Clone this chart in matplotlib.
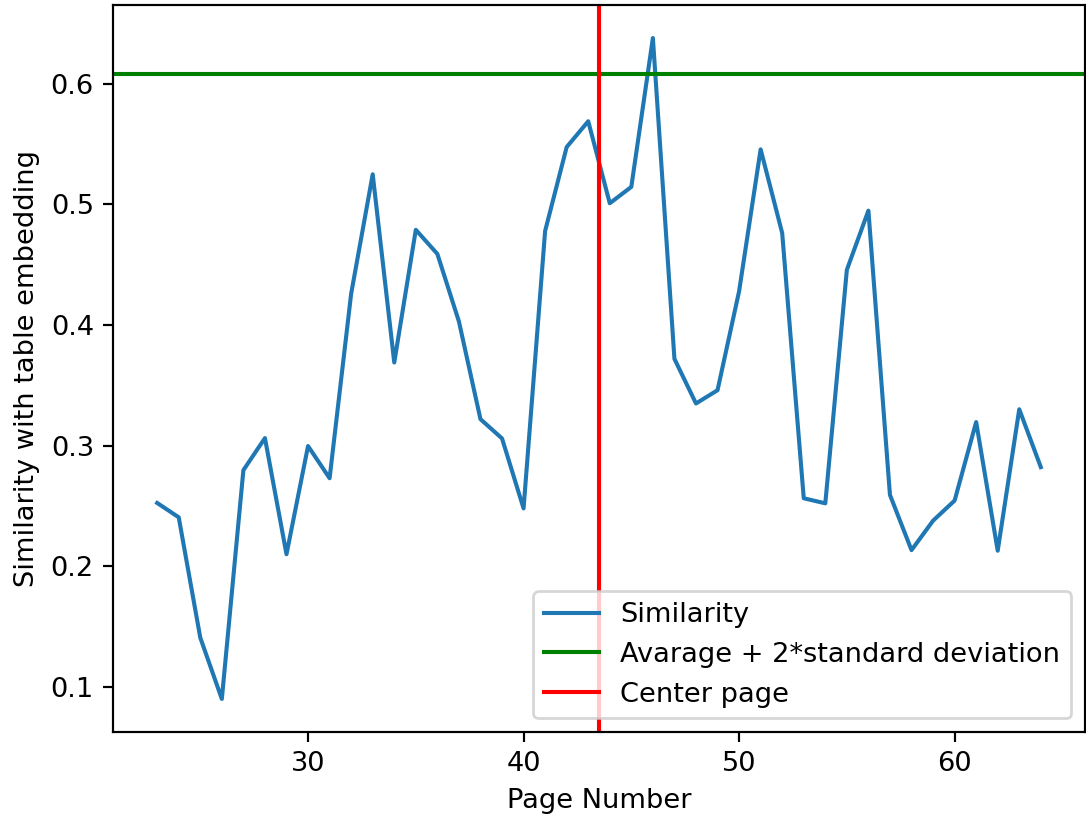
import matplotlib
matplotlib.use("Agg")
import matplotlib.pyplot as plt

pages = list(range(23, 65))
similarity = [0.2525, 0.2406, 0.1408, 0.090, 0.2797, 0.3063, 0.210, 0.2997, 0.273,
              0.426, 0.525, 0.369, 0.479, 0.459, 0.403, 0.322, 0.306, 0.248,
              0.478, 0.5476, 0.569, 0.501, 0.5146, 0.638, 0.372, 0.335, 0.346,
              0.428, 0.5457, 0.4763, 0.2564, 0.2522, 0.4458, 0.4949, 0.2592,
              0.2134, 0.2378, 0.2545, 0.3196, 0.2129, 0.3302, 0.2822]
threshold = 0.6082
center_page = 43.5

dpi = 196
fig = plt.figure(figsize=(1086 / dpi, 820 / dpi), dpi=dpi)
ax = fig.add_axes([113 / 1086, 88 / 820, 972 / 1086, 727 / 820])

ax.plot(pages, similarity, label="Similarity")
ax.axhline(threshold, color="green", label="Avarage + 2*standard deviation")
ax.axvline(center_page, color="red", label="Center page")
ax.set_xlabel("Page Number")
ax.set_ylabel("Similarity with table embedding")
ax.legend(loc="lower right")

fig.savefig("out.png", dpi=dpi)
